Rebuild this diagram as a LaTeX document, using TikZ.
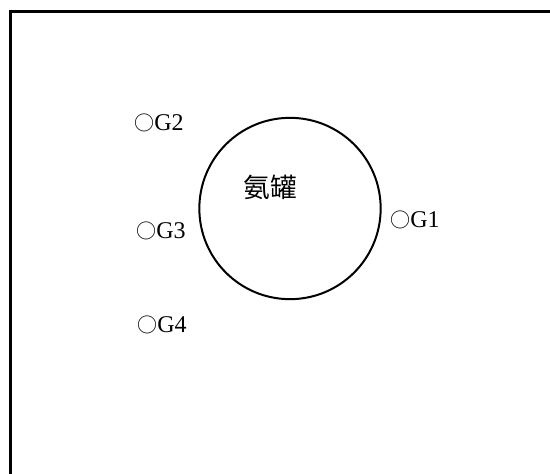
\documentclass[tikz,border=0pt]{standalone}
\usepackage{fontspec}
\setmainfont{Liberation Serif}
\newfontfamily\cjk{Noto Sans CJK SC}
\usetikzlibrary{positioning}

\begin{document}
\begin{tikzpicture}[x=0.75pt,y=-0.75pt]
 \tikzset{tank node/.style={circle, draw, line width=1.5pt,
 		minimum size=136pt, inner sep=0pt}, }
 \tikzset{point node/.style={anchor=west, inner sep=0pt,
 		font=\fontsize{18}{21}\selectfont}, }
 \tikzset{name node/.style={inner sep=0pt,
 		font=\cjk\fontsize{20}{23}\selectfont}, }
 \useasboundingbox (0,0) rectangle (550,474);
 \coordinate (c) at (10.5,11.5);
 \coordinate (r) at (550,11.5);
 \coordinate (b) at (10.5,474);
 \draw[line width=2.2pt] (r) -- (c) -- (b);
 \node[tank node] (tank) at (290,208.5) {};
 \node[name node] (name) at (270,187) {氨罐};
 \node[point node] (g1) at (390,220) {{\cjk\fontsize{15}{17}\selectfont ○}G1};
 \node[point node] (g2) at (134,123) {{\cjk\fontsize{15}{17}\selectfont ○}G2};
 \node[point node] (g3) at (136,231) {{\cjk\fontsize{15}{17}\selectfont ○}G3};
 \node[point node] (g4) at (137,325) {{\cjk\fontsize{15}{17}\selectfont ○}G4};
\end{tikzpicture}
\end{document}
